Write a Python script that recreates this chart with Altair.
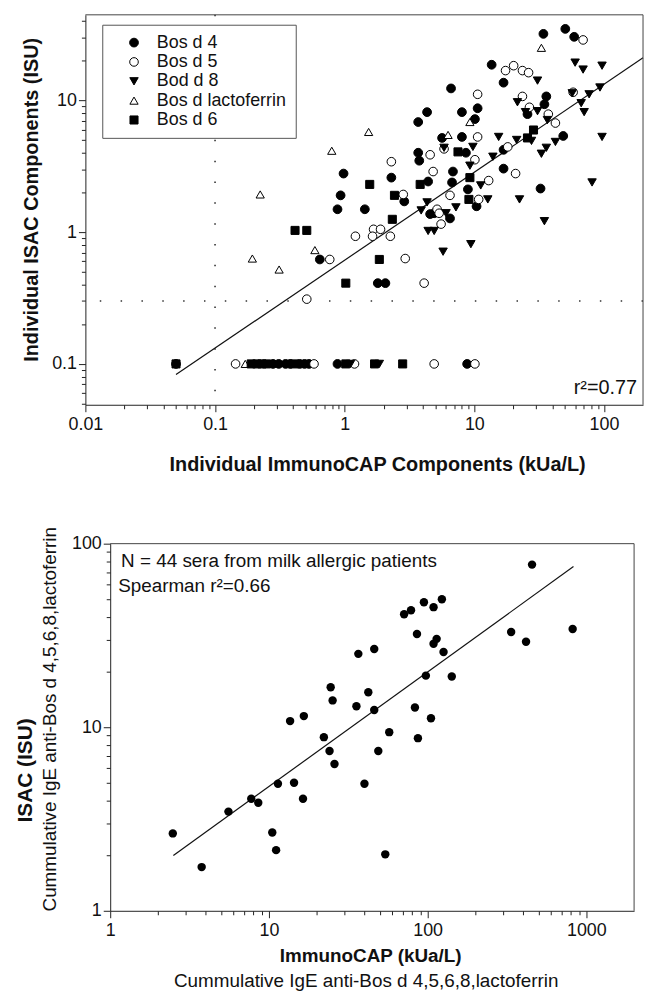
import altair as alt
import pandas as pd

FONT = "Liberation Sans"

# ---------------- top panel data ----------------
SERIES = ["Bos d 4", "Bos d 5", "Bod d 8", "Bos d lactoferrin", "Bos d 6"]

D4_X = [0.05, 0.28, 0.31, 0.35, 0.38, 0.45, 0.49, 0.53, 0.88, 8.8,
        34.1, 50.3, 58.9, 13.6, 16.8, 6.61, 35.9, 34.7, 25.7, 4.32,
        3.69, 8.02, 10.6, 10.1, 5.64, 8.02, 8.61, 3.69, 3.76, 16.8,
        48.5, 2.29, 4.40, 6.84, 6.73, 16.8, 32.4, 8.92, 2.88, 10.4,
        4.56, 4.9, 6.49, 1.43, 0.98, 0.93, 0.88, 0.643, 1.8, 2.06]
D4_Y = [0.1, 0.1, 0.1, 0.1, 0.1, 0.1, 0.1, 0.1, 0.1, 0.1,
        31.9, 34.8, 30.3, 18.6, 13.6, 12.3, 10.7, 9.33, 7.85, 8.13,
        6.84, 8.13, 8.7, 7.2, 5.18, 5.27, 4.0, 4.0, 3.48, 4.21,
        5.36, 2.59, 2.42, 2.88, 2.38, 3.03, 2.14, 2.11, 1.71, 1.57,
        1.37, 1.39, 1.27, 1.49, 2.78, 1.90, 1.49, 0.62, 0.41, 0.41]

D5_X = [0.144, 0.58, 1.19, 4.9, 10.1,
        69.0, 17.4, 20.1, 23.5, 26.2, 10.6, 23.5, 26.6, 37.2, 42.2,
        57.8, 10.6, 5.84, 4.56, 10.1, 18.1, 2.29, 4.81, 12.9, 20.8,
        2.83, 6.49, 10.8, 5.16, 5.35, 5.54, 1.67, 1.89, 1.64, 2.25,
        1.21, 2.93, 4.10, 0.767, 0.51]
D5_Y = [0.1, 0.1, 0.1, 0.1, 0.1,
        28.7, 16.8, 18.3, 16.8, 16.2, 11.1, 10.7, 8.85, 7.85, 6.72,
        11.5, 5.27, 4.28, 3.86, 3.54, 4.43, 3.42, 2.88, 2.46, 2.78,
        1.93, 1.90, 1.77, 1.49, 1.39, 1.15, 1.05, 1.05, 0.93, 0.93,
        0.93, 0.63, 0.41, 0.62, 0.31]

D8_X = [1.11, 1.85,
        30.7, 59.9, 69.0, 96.6, 21.5, 24.8, 30.7, 36.6, 56.9, 76.8,
        93.1, 66.7, 70.3, 15.4, 5.84, 9.75, 9.24, 13.9, 21.2, 27.6,
        35.9, 32.9, 42.2, 96.6, 11.2, 80.9, 4.32, 12.7, 22.3, 3.89,
        6.05, 7.21, 4.40, 4.9, 34.7, 9.4, 5.74]
D8_Y = [0.1, 0.1,
        14.1, 19.3, 17.1, 18.3, 9.66, 8.13, 8.27, 7.08, 11.3, 11.1,
        12.5, 9.5, 8.13, 5.27, 4.36, 4.43, 3.19, 3.73, 5.0, 4.92,
        4.36, 3.93, 4.83, 5.27, 2.26, 2.38, 1.68, 1.77, 1.77, 1.46,
        1.39, 1.54, 1.02, 1.02, 1.21, 0.81, 0.71]

LF_X = [0.171, 32.9, 9.24, 1.53, 6.27, 0.795, 0.223, 0.194, 0.312, 0.589]
LF_Y = [0.1, 25.0, 6.84, 5.75, 5.46, 4.14, 1.93, 0.63, 0.52, 0.73]

D6_X = [0.05, 0.19, 0.21, 0.23, 0.25, 0.41, 1.02, 1.7, 2.8,
        7.48, 28.6, 25.7, 1.56, 3.82, 9.24, 2.42, 9.08, 2.33, 1.85,
        1.02, 0.414, 0.51]
D6_Y = [0.1, 0.1, 0.1, 0.1, 0.1, 0.1, 0.1, 0.1, 0.1,
        4.06, 5.95, 5.18, 2.30, 2.30, 2.59, 1.90, 1.77, 1.25, 0.62,
        0.41, 1.03, 1.03]

TOP_FIT_X = [0.05, 200]
TOP_FIT_Y = [0.083, 21.0]
TOP_VLINE_X = [0.1]
TOP_HLINE_Y = [0.3]
TOP_X_DOMAIN = [0.01, 200]
TOP_Y_DOMAIN = [0.049, 44.5]

# ---------------- bottom panel data ----------------
BOT_X = [455, 36.6, 46.1, 24.5, 25.2, 42.3, 35.6, 13.6, 16.6, 22.2,
         46.1, 71.1, 78.6, 94.8, 109, 123, 85.7, 114, 109, 126,
         336, 417, 820, 97.5, 142, 83.2, 105, 57.3, 86.9, 24.1,
         25.9, 11.4, 14.4, 16.4, 40.0, 48.9, 7.74, 8.57, 5.56, 2.48,
         10.5, 11.1, 3.77, 54.1]
BOT_Y = [76.9, 25.1, 26.7, 16.5, 14.0, 15.5, 13.0, 10.8, 11.5, 8.83,
         12.4, 41.3, 43.4, 48.0, 45.1, 49.8, 32.2, 30.3, 28.5, 25.7,
         33.0, 29.2, 34.3, 19.1, 18.9, 12.8, 11.2, 9.4, 8.72, 7.42,
         6.31, 4.92, 4.98, 4.08, 4.92, 7.42, 4.08, 3.88, 3.47, 2.64,
         2.67, 2.14, 1.73, 2.03]
BOT_FIT_X = [2.5, 830]
BOT_FIT_Y = [2.0, 75.0]
BOT_X_DOMAIN = [1, 2000]
BOT_Y_DOMAIN = [1, 100]

SUBTITLE = "Cummulative IgE anti-Bos d 4,5,6,8,lactoferrin"

rows = []
for name, xs, ys in [(SERIES[0], D4_X, D4_Y), (SERIES[1], D5_X, D5_Y),
                     (SERIES[2], D8_X, D8_Y), (SERIES[3], LF_X, LF_Y),
                     (SERIES[4], D6_X, D6_Y)]:
    for a, b in zip(xs, ys):
        rows.append({"series": name, "x": a, "y": b})
top_df = pd.DataFrame(rows)
bot_df = pd.DataFrame({"x": BOT_X, "y": BOT_Y})
dummy = pd.DataFrame({"d": [0]})


def log_ticks(e0, e1, last):
    vals = [round(m * 10 ** e, 6) for e in range(e0, e1) for m in range(1, 10)]
    return [v for v in vals if v <= last] + ([last] if last not in vals else [])


def major_test(majors):
    return "indexof([" + ",".join(str(m) for m in majors) + "], datum.value) >= 0"


def log_axis(values, majors, **kw):
    t = major_test(majors)
    return alt.Axis(
        values=values,
        labelExpr=t + " ? '' + datum.value : ''",
        tickSize={"condition": {"test": t, "value": 7}, "value": 4},
        tickColor="#222", domainColor="#222", labelColor="#111",
        labelFont=FONT, labelFontSize=18, labelFlush=False, labelOverlap=False,
        grid=False, titleFont=FONT, titleColor="#111", titleFontWeight="bold",
        titleBaseline="middle", titleAlign="center", **kw)


top_x_ticks = [v for v in log_ticks(-2, 2, 90)] + [100]
top_y_ticks = [v for v in log_ticks(-2, 2, 40) if v >= 0.05]
bot_x_ticks = log_ticks(0, 3, 900) + [1000]
bot_y_ticks = log_ticks(0, 2, 90) + [100]

# ---------------- top chart ----------------
xs_top = alt.Scale(type="log", domain=TOP_X_DOMAIN, nice=False)
ys_top = alt.Scale(type="log", domain=TOP_Y_DOMAIN, nice=False)

legend = alt.Legend(title=None, orient="none", legendX=17, legendY=10,
                    fillColor="white", strokeColor="#555", padding=9,
                    labelFont=FONT, labelFontSize=18, labelColor="#111",
                    rowPadding=1.5, symbolOffset=14, labelOffset=14,
                    symbolStrokeWidth=1)

points = alt.Chart(top_df).mark_point(strokeWidth=1, opacity=1).encode(
    x=alt.X("x:Q", scale=xs_top,
            axis=log_axis(top_x_ticks, [0.01, 0.1, 1, 10, 100], labelPadding=4,
                          title="Individual ImmunoCAP Components (kUa/L)",
                          titleFontSize=20, titleX=294, titleY=60)),
    y=alt.Y("y:Q", scale=ys_top,
            axis=log_axis(top_y_ticks, [0.1, 1, 10], labelPadding=2,
                          title="Individual ISAC Components (ISU)",
                          titleFontSize=20, titleAngle=270, titleX=-54, titleY=186)),
    shape=alt.Shape("series:N", scale=alt.Scale(domain=SERIES,
                    range=["circle", "circle", "triangle-down", "triangle-up", "square"]),
                    legend=legend),
    fill=alt.Fill("series:N", scale=alt.Scale(domain=SERIES,
                  range=["black", "white", "black", "white", "black"]), legend=legend),
    stroke=alt.Stroke("series:N", scale=alt.Scale(domain=SERIES,
                      range=["black", "black", "black", "black", "black"]), legend=legend),
    size=alt.Size("series:N", scale=alt.Scale(domain=SERIES,
                  range=[78, 66, 120, 105, 70]), legend=legend),
)

dot = dict(strokeDash=[1.5, 19.5], strokeWidth=1.6, color="#333")
vline = alt.Chart(pd.DataFrame({"x": TOP_VLINE_X})).mark_rule(**dot).encode(x="x:Q")
hline = alt.Chart(pd.DataFrame({"y": TOP_HLINE_Y})).mark_rule(**dot).encode(y="y:Q")
top_fit = alt.Chart(pd.DataFrame({"x": TOP_FIT_X, "y": TOP_FIT_Y})).mark_line(
    color="#111", strokeWidth=1.2).encode(x="x:Q", y="y:Q")
r2 = alt.Chart(dummy).mark_text(text="r²=0.77", align="right", baseline="middle",
                                fontSize=20, font=FONT, color="#111").encode(
    x=alt.value(556), y=alt.value(376))
top_frame_t = alt.Chart(dummy).mark_rule(color="#444", strokeWidth=1).encode(
    x=alt.datum(TOP_X_DOMAIN[0]), x2=alt.datum(TOP_X_DOMAIN[1]), y=alt.datum(TOP_Y_DOMAIN[1]))
top_frame_r = alt.Chart(dummy).mark_rule(color="#444", strokeWidth=1).encode(
    x=alt.datum(TOP_X_DOMAIN[1]), y=alt.datum(TOP_Y_DOMAIN[0]), y2=alt.datum(TOP_Y_DOMAIN[1]))
top_anchor = alt.Chart(dummy).mark_rule(opacity=0).encode(
    x=alt.value(-78), x2=alt.value(-78), y=alt.value(-1), y2=alt.value(470))

top = alt.layer(vline, hline, top_fit, points, top_frame_t, top_frame_r, r2,
                top_anchor).properties(width=562, height=393)

# ---------------- bottom chart ----------------
xs_bot = alt.Scale(type="log", domain=BOT_X_DOMAIN, range=[25, 553], nice=False)
ys_bot = alt.Scale(type="log", domain=BOT_Y_DOMAIN, nice=False)

bpoints = alt.Chart(bot_df).mark_circle(size=72, color="black", opacity=1).encode(
    x=alt.X("x:Q", scale=xs_bot,
            axis=log_axis(bot_x_ticks, [1, 10, 100, 1000], labelPadding=4,
                          title="ImmunoCAP (kUa/L)", titleFontSize=19,
                          titleX=287, titleY=45)),
    y=alt.Y("y:Q", scale=ys_bot,
            axis=log_axis(bot_y_ticks, [1, 10, 100], labelPadding=2, offset=-25,
                          title="ISAC (ISU)", titleFontSize=21, titleAngle=270,
                          titleX=-85, titleY=228)),
)
bot_fit = alt.Chart(pd.DataFrame({"x": BOT_FIT_X, "y": BOT_FIT_Y})).mark_line(
    color="#111", strokeWidth=1.2).encode(x="x:Q", y="y:Q")
txt = dict(font=FONT, fontSize=19, color="#111", baseline="middle")
n_text = alt.Chart(dummy).mark_text(text="N = 44 sera from milk allergic patients",
                                    align="left", **txt).encode(x=alt.value(36), y=alt.value(18))
sp_text = alt.Chart(dummy).mark_text(text="Spearman r²=0.66", align="left", **txt).encode(
    x=alt.value(33), y=alt.value(43))
ysub = alt.Chart(dummy).mark_text(text=SUBTITLE, align="center", angle=270, **txt).encode(
    x=alt.value(-36), y=alt.value(177))
xsub = alt.Chart(dummy).mark_text(text=SUBTITLE, align="center", **txt).encode(
    x=alt.value(283), y=alt.value(441))
bot_frame_t = alt.Chart(dummy).mark_rule(color="#444", strokeWidth=1).encode(
    x=alt.datum(BOT_X_DOMAIN[0]), x2=alt.datum(BOT_X_DOMAIN[1]), y=alt.datum(BOT_Y_DOMAIN[1]))
bot_frame_r = alt.Chart(dummy).mark_rule(color="#444", strokeWidth=1).encode(
    x=alt.datum(BOT_X_DOMAIN[1]), y=alt.datum(BOT_Y_DOMAIN[0]), y2=alt.datum(BOT_Y_DOMAIN[1]))
bot_anchor = alt.Chart(dummy).mark_rule(opacity=0).encode(
    x=alt.value(-78), x2=alt.value(-78), y=alt.value(-50), y2=alt.value(0))

bottom = alt.layer(bot_fit, bpoints, bot_frame_t, bot_frame_r, n_text, sp_text,
                   ysub, xsub, bot_anchor).properties(width=553, height=370)

chart = alt.vconcat(top, bottom, spacing=13).properties(
    padding={"left": 0, "top": 0, "right": 0, "bottom": 0}
).configure_view(strokeWidth=0)

chart.save("out.html", embed_options={"renderer": "svg", "actions": False})
